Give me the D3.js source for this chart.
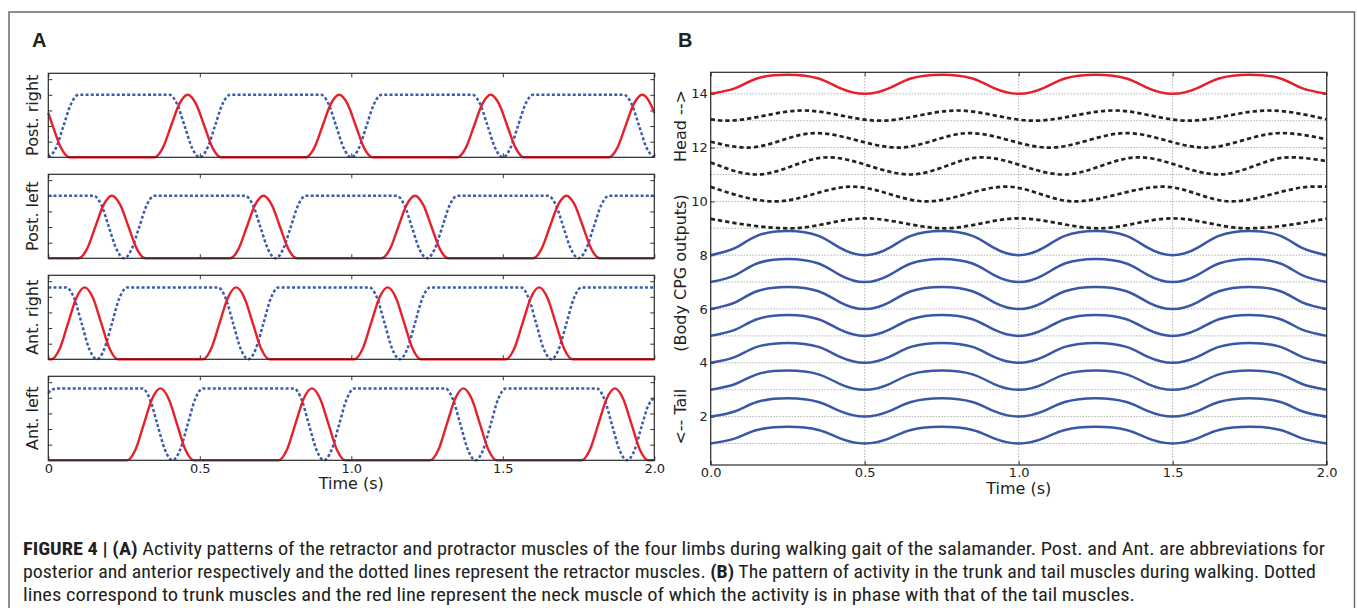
<!DOCTYPE html>
<html><head><meta charset="utf-8">
<script src="https://cdn.jsdelivr.net/npm/d3@7"></script>
<style>
body{margin:0;background:#fff;}
svg{display:block;}
text{font-family:"DejaVu Sans",sans-serif;fill:#222;}
</style>
</head><body>
<svg id="c" width="1357" height="608"></svg>
<script>
// ---------------- DATA ----------------
// Panel A: [time (s), activity]. Red solid = protractor, blue dotted = retractor
const limbNames = ["Post. right", "Post. left", "Ant. right", "Ant. left"];
const timeTicksA = [0, 0.5, 1.0, 1.5, 2.0];
const timeTickLabelsA = ["0", "0.5", "1.0", "1.5", "2.0"];
const activityTicks = [0.2, 0.4, 0.6, 0.8, 1.0];

const postRightProtractor = [[0,.57],[.015,.4],[.0425,.117],[.07,0],
 [.35,0],[.3775,.117],[.405,.4],[.4325,.683],[.46,.8],[.4875,.683],[.515,.4],[.5425,.117],[.57,0],
 [.85,0],[.8775,.117],[.905,.4],[.9325,.683],[.96,.8],[.9875,.683],[1.015,.4],[1.0425,.117],[1.07,0],
 [1.35,0],[1.3775,.117],[1.405,.4],[1.4325,.683],[1.46,.8],[1.4875,.683],[1.515,.4],[1.5425,.117],[1.57,0],
 [1.85,0],[1.8775,.117],[1.905,.4],[1.9325,.683],[1.96,.8],[1.9875,.683],[2.0,.57]];
const postRightRetractor = [[0,0],[.025,.117],[.05,.4],[.075,.683],[.1,.8],
 [.4,.8],[.425,.683],[.45,.4],[.475,.117],[.5,0],[.525,.117],[.55,.4],[.575,.683],[.6,.8],
 [.9,.8],[.925,.683],[.95,.4],[.975,.117],[1,0],[1.025,.117],[1.05,.4],[1.075,.683],[1.1,.8],
 [1.4,.8],[1.425,.683],[1.45,.4],[1.475,.117],[1.5,0],[1.525,.117],[1.55,.4],[1.575,.683],[1.6,.8],
 [1.9,.8],[1.925,.683],[1.95,.4],[1.975,.117],[2,0]];

const postLeftProtractor = [[0,0],[.1,0],[.1275,.117],[.155,.4],[.1825,.683],[.21,.8],[.2375,.683],[.265,.4],[.2925,.117],[.32,0],
 [.6,0],[.6275,.117],[.655,.4],[.6825,.683],[.71,.8],[.7375,.683],[.765,.4],[.7925,.117],[.82,0],
 [1.1,0],[1.1275,.117],[1.155,.4],[1.1825,.683],[1.21,.8],[1.2375,.683],[1.265,.4],[1.2925,.117],[1.32,0],
 [1.6,0],[1.6275,.117],[1.655,.4],[1.6825,.683],[1.71,.8],[1.7375,.683],[1.765,.4],[1.7925,.117],[1.82,0],[2,0]];
const postLeftRetractor = [[0,.8],[.15,.8],[.175,.683],[.2,.4],[.225,.117],[.25,0],[.275,.117],[.3,.4],[.325,.683],[.35,.8],
 [.65,.8],[.675,.683],[.7,.4],[.725,.117],[.75,0],[.775,.117],[.8,.4],[.825,.683],[.85,.8],
 [1.15,.8],[1.175,.683],[1.2,.4],[1.225,.117],[1.25,0],[1.275,.117],[1.3,.4],[1.325,.683],[1.35,.8],
 [1.65,.8],[1.675,.683],[1.7,.4],[1.725,.117],[1.75,0],[1.775,.117],[1.8,.4],[1.825,.683],[1.85,.8],[2,.8]];

const antRightProtractor = [[0,0],[.01,0],[.0375,.134],[.065,.46],[.0925,.786],[.12,.92],[.1475,.786],[.175,.46],[.2025,.134],[.23,0],
 [.51,0],[.5375,.134],[.565,.46],[.5925,.786],[.62,.92],[.6475,.786],[.675,.46],[.7025,.134],[.73,0],
 [1.01,0],[1.0375,.134],[1.065,.46],[1.0925,.786],[1.12,.92],[1.1475,.786],[1.175,.46],[1.2025,.134],[1.23,0],
 [1.51,0],[1.5375,.134],[1.565,.46],[1.5925,.786],[1.62,.92],[1.6475,.786],[1.675,.46],[1.7025,.134],[1.73,0],[2,0]];
const antRightRetractor = [[0,.92],[.06,.92],[.085,.786],[.11,.46],[.135,.134],[.16,0],[.185,.134],[.21,.46],[.235,.786],[.26,.92],
 [.56,.92],[.585,.786],[.61,.46],[.635,.134],[.66,0],[.685,.134],[.71,.46],[.735,.786],[.76,.92],
 [1.06,.92],[1.085,.786],[1.11,.46],[1.135,.134],[1.16,0],[1.185,.134],[1.21,.46],[1.235,.786],[1.26,.92],
 [1.56,.92],[1.585,.786],[1.61,.46],[1.635,.134],[1.66,0],[1.685,.134],[1.71,.46],[1.735,.786],[1.76,.92],[2,.92]];

const antLeftProtractor = [[0,0],[.26,0],[.2875,.134],[.315,.46],[.3425,.786],[.37,.92],[.3975,.786],[.425,.46],[.4525,.134],[.48,0],
 [.76,0],[.7875,.134],[.815,.46],[.8425,.786],[.87,.92],[.8975,.786],[.925,.46],[.9525,.134],[.98,0],
 [1.26,0],[1.2875,.134],[1.315,.46],[1.3425,.786],[1.37,.92],[1.3975,.786],[1.425,.46],[1.4525,.134],[1.48,0],
 [1.76,0],[1.7875,.134],[1.815,.46],[1.8425,.786],[1.87,.92],[1.8975,.786],[1.925,.46],[1.9525,.134],[1.98,0],[2,0]];
const antLeftRetractor = [[0,.86],[.01,.9],[.03,.92],
 [.31,.92],[.335,.786],[.36,.46],[.385,.134],[.41,0],[.435,.134],[.46,.46],[.485,.786],[.51,.92],
 [.81,.92],[.835,.786],[.86,.46],[.885,.134],[.91,0],[.935,.134],[.96,.46],[.985,.786],[1.01,.92],
 [1.31,.92],[1.335,.786],[1.36,.46],[1.385,.134],[1.41,0],[1.435,.134],[1.46,.46],[1.485,.786],[1.51,.92],
 [1.81,.92],[1.835,.786],[1.86,.46],[1.885,.134],[1.91,0],[1.935,.134],[1.96,.46],[1.98,.7],[2,.8]];

// Panel B: [time (s), body CPG output offset by segment index]
const timeTicksB = [0, 0.5, 1.0, 1.5, 2.0];
const timeTickLabelsB = ["0.0", "0.5", "1.0", "1.5", "2.0"];
const segmentTicks = [2, 4, 6, 8, 10, 12, 14];
const gridLevels = [1,2,3,4,5,6,7,8,9,10,11,12,13,14];

const neck14 = [[0,14],[.08,14.21],[.15,14.57],[.25,14.71],[.35,14.57],[.42,14.21],[.5,14],[.58,14.21],[.65,14.57],[.75,14.71],[.85,14.57],[.92,14.21],[1,14],[1.08,14.21],[1.15,14.57],[1.25,14.71],[1.35,14.57],[1.42,14.21],[1.5,14],[1.58,14.21],[1.65,14.57],[1.75,14.71],[1.85,14.57],[1.92,14.21],[2,14]];

const trunk13 = [[0,13.05],[.05,13.0],[.30,13.38],[.55,13.0],[.80,13.38],[1.05,13.0],[1.31,13.38],[1.55,13.0],[1.81,13.38],[2.0,13.05]];
const trunk12 = [[0,12.22],[.12,12.0],[.34,12.54],[.61,12.0],[.84,12.54],[1.10,12.0],[1.35,12.54],[1.605,12.0],[1.85,12.54],[2.0,12.31]];
const trunk11 = [[0,11.45],[.15,11.0],[.38,11.64],[.65,11.0],[.88,11.64],[1.145,11.0],[1.39,11.64],[1.65,11.0],[1.88,11.64],[2.0,11.5]];
const trunk10 = [[0,10.54],[.21,10.0],[.46,10.55],[.70,10.0],[.96,10.55],[1.18,10.0],[1.47,10.55],[1.69,10.0],[1.96,10.55],[2.0,10.55]];
const trunk9 = [[0,9.35],[.26,9.0],[.5,9.37],[.76,9.0],[1.0,9.37],[1.26,9.0],[1.5,9.37],[1.74,9.0],[2.0,9.36]];

const tail8 = [[0,8],[.08,8.27],[.15,8.72],[.25,8.9],[.35,8.72],[.42,8.27],[.5,8],[.58,8.27],[.65,8.72],[.75,8.9],[.85,8.72],[.92,8.27],[1,8],[1.08,8.27],[1.15,8.72],[1.25,8.9],[1.35,8.72],[1.42,8.27],[1.5,8],[1.58,8.27],[1.65,8.72],[1.75,8.9],[1.85,8.72],[1.92,8.27],[2,8]];
const tail7 = [[0,7],[.08,7.26],[.15,7.69],[.25,7.86],[.35,7.69],[.42,7.26],[.5,7],[.58,7.26],[.65,7.69],[.75,7.86],[.85,7.69],[.92,7.26],[1,7],[1.08,7.26],[1.15,7.69],[1.25,7.86],[1.35,7.69],[1.42,7.26],[1.5,7],[1.58,7.26],[1.65,7.69],[1.75,7.86],[1.85,7.69],[1.92,7.26],[2,7]];
const tail6 = [[0,6],[.08,6.25],[.15,6.66],[.25,6.82],[.35,6.66],[.42,6.25],[.5,6],[.58,6.25],[.65,6.66],[.75,6.82],[.85,6.66],[.92,6.25],[1,6],[1.08,6.25],[1.15,6.66],[1.25,6.82],[1.35,6.66],[1.42,6.25],[1.5,6],[1.58,6.25],[1.65,6.66],[1.75,6.82],[1.85,6.66],[1.92,6.25],[2,6]];
const tail5 = [[0,5],[.08,5.23],[.15,5.62],[.25,5.78],[.35,5.62],[.42,5.23],[.5,5],[.58,5.23],[.65,5.62],[.75,5.78],[.85,5.62],[.92,5.23],[1,5],[1.08,5.23],[1.15,5.62],[1.25,5.78],[1.35,5.62],[1.42,5.23],[1.5,5],[1.58,5.23],[1.65,5.62],[1.75,5.78],[1.85,5.62],[1.92,5.23],[2,5]];
const tail4 = [[0,4],[.08,4.22],[.15,4.59],[.25,4.74],[.35,4.59],[.42,4.22],[.5,4],[.58,4.22],[.65,4.59],[.75,4.74],[.85,4.59],[.92,4.22],[1,4],[1.08,4.22],[1.15,4.59],[1.25,4.74],[1.35,4.59],[1.42,4.22],[1.5,4],[1.58,4.22],[1.65,4.59],[1.75,4.74],[1.85,4.59],[1.92,4.22],[2,4]];
const tail3 = [[0,3],[.08,3.21],[.15,3.57],[.25,3.71],[.35,3.57],[.42,3.21],[.5,3],[.58,3.21],[.65,3.57],[.75,3.71],[.85,3.57],[.92,3.21],[1,3],[1.08,3.21],[1.15,3.57],[1.25,3.71],[1.35,3.57],[1.42,3.21],[1.5,3],[1.58,3.21],[1.65,3.57],[1.75,3.71],[1.85,3.57],[1.92,3.21],[2,3]];
const tail2 = [[0,2],[.08,2.2],[.15,2.54],[.25,2.68],[.35,2.54],[.42,2.2],[.5,2],[.58,2.2],[.65,2.54],[.75,2.68],[.85,2.54],[.92,2.2],[1,2],[1.08,2.2],[1.15,2.54],[1.25,2.68],[1.35,2.54],[1.42,2.2],[1.5,2],[1.58,2.2],[1.65,2.54],[1.75,2.68],[1.85,2.54],[1.92,2.2],[2,2]];
const tail1 = [[0,1],[.08,1.19],[.15,1.5],[.25,1.62],[.35,1.5],[.42,1.19],[.5,1],[.58,1.19],[.65,1.5],[.75,1.62],[.85,1.5],[.92,1.19],[1,1],[1.08,1.19],[1.15,1.5],[1.25,1.62],[1.35,1.5],[1.42,1.19],[1.5,1],[1.58,1.19],[1.65,1.5],[1.75,1.62],[1.85,1.5],[1.92,1.19],[2,1]];

const captionLines = [
  [{b:true,t:"FIGURE 4 | (A)"},{b:false,t:" Activity patterns of the retractor and protractor muscles of the four limbs during walking gait of the salamander. Post. and Ant. are abbreviations for"}],
  [{b:false,t:"posterior and anterior respectively and the dotted lines represent the retractor muscles. "},{b:true,t:"(B)"},{b:false,t:" The pattern of activity in the trunk and tail muscles during walking. Dotted"}],
  [{b:false,t:"lines correspond to trunk muscles and the red line represent the neck muscle of which the activity is in phase with that of the tail muscles."}]
];

// ---------------- DRAWING ----------------
const RED = "#e5202a", BLUE = "#3a56a6", BLUE_A = "#3b5cae", BLACK = "#222";
const svg = d3.select("#c");

svg.append("rect").attr("x", 9).attr("y", 12).attr("width", 1345.5).attr("height", 640)
  .attr("fill", "none").attr("stroke", "#6a6a6a").attr("stroke-width", 1.5);

svg.append("text").attr("x", 32).attr("y", 47).text("A")
  .style("font-family", "'Liberation Sans',Arial,sans-serif").style("font-weight", "bold").style("font-size", "20px");
svg.append("text").attr("x", 678).attr("y", 47).text("B")
  .style("font-family", "'Liberation Sans',Arial,sans-serif").style("font-weight", "bold").style("font-size", "20px");

// ---- Panel A ----
const limbs = [
  {pro: postRightProtractor, ret: postRightRetractor},
  {pro: postLeftProtractor, ret: postLeftRetractor},
  {pro: antRightProtractor, ret: antRightRetractor},
  {pro: antLeftProtractor, ret: antLeftRetractor}
];
const axL = 48.3, axR = 654.3, subH = 84, subTop0 = 73.3, subStep = 101;
const xA = d3.scaleLinear().domain([0, 2]).range([axL, axR]);

limbs.forEach((L, i) => {
  const top = subTop0 + i * subStep;
  const y = d3.scaleLinear().domain([0, 1.075]).range([top + subH, top]);
  const g = svg.append("g");
  const line = d3.line().x(d => xA(d[0])).y(d => y(d[1])).curve(d3.curveMonotoneX);

  const last = i === limbs.length - 1;
  const bx = d3.axisBottom(xA).tickValues(timeTicksA).tickSizeInner(-4).tickSizeOuter(0).tickPadding(3.5)
    .tickFormat((d, k) => last ? timeTickLabelsA[k] : "");
  const tx = d3.axisTop(xA).tickValues(timeTicksA).tickSizeInner(-4).tickSizeOuter(0).tickFormat("");
  const ly = d3.axisLeft(y).tickValues(activityTicks).tickSizeInner(-4).tickSizeOuter(0).tickFormat("");
  const ry = d3.axisRight(y).tickValues(activityTicks).tickSizeInner(-4).tickSizeOuter(0).tickFormat("");
  [[bx, `translate(0,${top + subH})`], [tx, `translate(0,${top})`], [ly, `translate(${axL},0)`], [ry, `translate(${axR},0)`]]
    .forEach(([ax, tr]) => {
      const a = g.append("g").attr("transform", tr).call(ax);
      a.attr("font-size", null).attr("font-family", null);
      a.select(".domain").remove();
      a.selectAll("line").attr("stroke", "#333");
      a.selectAll("text").style("font-family", "'DejaVu Sans',sans-serif").style("font-size", "13px").attr("fill", "#222");
    });

  g.append("path").attr("d", line(L.ret)).attr("fill", "none").attr("stroke", BLUE_A)
    .attr("stroke-width", 2.5).attr("stroke-dasharray", "3,2.2");
  g.append("path").attr("d", line(L.pro)).attr("fill", "none").attr("stroke", RED).attr("stroke-width", 2.4);

  g.append("rect").attr("x", axL).attr("y", top).attr("width", axR - axL).attr("height", subH)
    .attr("fill", "none").attr("stroke", "#2a2a2a").attr("stroke-width", 1.2);

  svg.append("text").attr("transform", `translate(38,${top + subH / 2}) rotate(-90)`)
    .attr("text-anchor", "middle").style("font-size", "16px").text(limbNames[i]);
});
svg.append("text").attr("x", (axL + axR) / 2).attr("y", 489).attr("text-anchor", "middle")
  .style("font-size", "16px").text("Time (s)");

// ---- Panel B ----
const bL = 710.7, bR = 1326.7, bT = 72.3, bB = 465;
const xB = d3.scaleLinear().domain([0, 2]).range([bL, bR]);
const yB = d3.scaleLinear().domain([0.2, 14.8]).range([bB, bT]);
const gB = svg.append("g");

gB.selectAll("line.hg").data(gridLevels).join("line").attr("class", "hg")
  .attr("x1", bL).attr("x2", bR).attr("y1", d => yB(d)).attr("y2", d => yB(d))
  .attr("stroke", "#8a8a8a").attr("stroke-width", 1).attr("stroke-dasharray", "1,2");
gB.selectAll("line.vg").data(timeTicksB).join("line").attr("class", "vg")
  .attr("x1", d => xB(d)).attr("x2", d => xB(d)).attr("y1", bT).attr("y2", bB)
  .attr("stroke", "#8a8a8a").attr("stroke-width", 1).attr("stroke-dasharray", "1,2");

[[d3.axisBottom(xB).tickValues(timeTicksB).tickFormat((d, k) => timeTickLabelsB[k]).tickPadding(3), `translate(0,${bB})`],
 [d3.axisTop(xB).tickValues(timeTicksB).tickFormat(""), `translate(0,${bT})`],
 [d3.axisLeft(yB).tickValues(segmentTicks).tickFormat(d3.format("d")).tickPadding(3), `translate(${bL},0)`],
 [d3.axisRight(yB).tickValues(segmentTicks).tickFormat(""), `translate(${bR},0)`]]
  .forEach(([ax, tr]) => {
    ax.tickSizeInner(-4).tickSizeOuter(0);
    const a = gB.append("g").attr("transform", tr).call(ax);
    a.attr("font-size", null).attr("font-family", null);
    a.select(".domain").remove();
    a.selectAll("line").attr("stroke", "#333");
    a.selectAll("text").style("font-family", "'DejaVu Sans',sans-serif").style("font-size", "13px").attr("fill", "#222");
  });

const lineB = d3.line().x(d => xB(d[0])).y(d => yB(d[1])).curve(d3.curveMonotoneX);
const lineSmooth = d3.line().x(d => xB(d[0])).y(d => yB(d[1])).curve(d3.curveNatural);
const tails = [tail1, tail2, tail3, tail4, tail5, tail6, tail7, tail8];
const trunks = [trunk9, trunk10, trunk11, trunk12, trunk13];
tails.forEach(s => gB.append("path").attr("d", lineSmooth(s)).attr("fill", "none").attr("stroke", BLUE).attr("stroke-width", 2.5));
trunks.forEach(s => gB.append("path").attr("d", lineB(s)).attr("fill", "none").attr("stroke", BLACK)
  .attr("stroke-width", 2.7).attr("stroke-dasharray", "4.3,3"));
gB.append("path").attr("d", lineSmooth(neck14)).attr("fill", "none").attr("stroke", RED).attr("stroke-width", 2.5);

gB.append("rect").attr("x", bL).attr("y", bT).attr("width", bR - bL).attr("height", bB - bT)
  .attr("fill", "none").attr("stroke", "#2a2a2a").attr("stroke-width", 1.2);

svg.append("text").attr("x", (bL + bR) / 2).attr("y", 494).attr("text-anchor", "middle")
  .style("font-size", "16px").text("Time (s)");
[["Head -->", 126], ["(Body CPG outputs)", 273], ["<-- Tail", 416.7]].forEach(([t, cy]) => {
  svg.append("text").attr("transform", `translate(686,${cy}) rotate(-90)`).attr("text-anchor", "middle")
    .style("font-size", "16px").text(t);
});

// ---- Caption ----
const capY = [555, 578, 601];
const capW = [1302, 1293, 1112];
captionLines.forEach((parts, i) => {
  const t = svg.append("text").attr("x", 23).attr("y", capY[i])
    .attr("textLength", capW[i]).attr("lengthAdjust", "spacingAndGlyphs")
    .style("font-family", "'Liberation Sans Narrow','Roboto Condensed','Liberation Sans',Arial,sans-serif")
    .style("font-size", "17.5px").style("fill", "#231f20");
  parts.forEach(p => t.append("tspan").style("font-weight", p.b ? "bold" : "normal").text(p.t));
});
</script>
</body></html>
